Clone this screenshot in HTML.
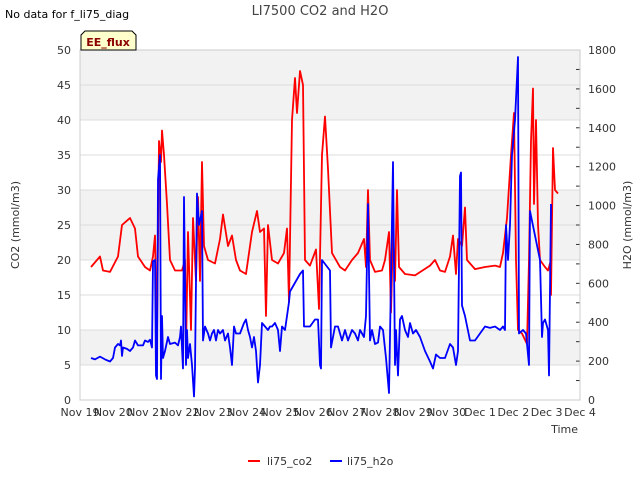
<!DOCTYPE html>
<html><head><meta charset="utf-8"><style>
body{margin:0;background:#fff;font-family:"Liberation Sans","DejaVu Sans",sans-serif}
svg text{font-family:"DejaVu Sans","Liberation Sans",sans-serif}
</style></head><body>
<svg id="c" width="640" height="480" xmlns="http://www.w3.org/2000/svg"></svg>
<script>
const xTickLabels=["Nov 19","Nov 20","Nov 21","Nov 22","Nov 23","Nov 24","Nov 25","Nov 26","Nov 27","Nov 28","Nov 29","Nov 30","Dec 1","Dec 2","Dec 3","Dec 4"];
const yLeftTicks=[0,5,10,15,20,25,30,35,40,45,50];
const yRightTicks=[0,200,400,600,800,1000,1200,1400,1600,1800];
const co2Days=[.33,.6,.69,.9,1.14,1.26,1.5,1.65,1.74,1.95,2.1,2.19,2.25,2.31,2.37,2.43,2.46,2.52,2.61,2.7,2.85,3.06,3.15,3.18,3.24,3.33,3.39,3.48,3.54,3.6,3.66,3.72,3.84,4.05,4.2,4.29,4.44,4.56,4.68,4.8,4.98,5.16,5.31,5.4,5.52,5.58,5.64,5.76,5.94,6.12,6.21,6.27,6.36,6.45,6.51,6.6,6.69,6.75,6.9,7.08,7.17,7.26,7.35,7.44,7.56,7.8,7.95,8.16,8.34,8.52,8.58,8.64,8.7,8.85,9.06,9.15,9.27,9.33,9.39,9.45,9.51,9.57,9.75,10.05,10.5,10.65,10.8,10.95,11.1,11.19,11.28,11.34,11.46,11.55,11.61,11.85,12.15,12.45,12.6,12.69,12.81,12.93,13.02,13.08,13.14,13.26,13.41,13.47,13.53,13.59,13.62,13.68,13.74,13.8,13.95,14.04,14.1,14.13,14.19,14.25,14.34];
const co2Vals=[19,20.5,18.5,18.3,20.5,25,26,24.5,20.5,19,18.5,20.5,23.5,8.5,37,34,38.5,35,28,20,18.5,18.5,20,7,24,10,26,17,29,17,34,22,20,19.5,23,26.5,22,23.5,20,18.5,18,24,27,24,24.5,12,25,20,19.5,21,24.5,14,40,46,41,47,45,20,19.2,21.5,13,35,40.5,33,21,19,18.5,20,21,23,19,30,20,18.3,18.5,20,24,12.5,24,17,30,19,18,17.8,19.2,20,18.5,18.3,20.5,23.5,18,23,22,27.5,20,18.7,19,19.2,19,21,26,35,41,20,10,9.5,8,20,37,44.5,28,40,25,20,19,18.5,19.5,15,36,30,29.5];
const h2oDays=[.33,.45,.6,.75,.9,.99,1.05,1.14,1.2,1.23,1.26,1.29,1.41,1.5,1.59,1.65,1.74,1.89,1.95,2.04,2.1,2.16,2.19,2.25,2.28,2.31,2.34,2.4,2.43,2.46,2.49,2.55,2.64,2.7,2.85,2.94,3.0,3.03,3.09,3.12,3.18,3.21,3.24,3.3,3.36,3.42,3.45,3.51,3.57,3.66,3.69,3.75,3.84,3.9,3.96,4.02,4.08,4.14,4.2,4.29,4.35,4.44,4.5,4.56,4.62,4.68,4.8,4.92,4.98,5.04,5.1,5.16,5.22,5.28,5.34,5.4,5.46,5.55,5.64,5.7,5.76,5.85,5.94,6.0,6.06,6.15,6.27,6.3,6.6,6.69,6.72,6.81,6.9,7.05,7.14,7.2,7.23,7.26,7.5,7.53,7.65,7.74,7.86,7.95,8.04,8.16,8.25,8.34,8.4,8.52,8.58,8.64,8.7,8.76,8.85,8.94,9.0,9.09,9.18,9.27,9.3,9.39,9.45,9.48,9.54,9.6,9.66,9.75,9.84,9.9,9.99,10.08,10.2,10.35,10.5,10.59,10.68,10.8,10.95,11.1,11.19,11.28,11.34,11.4,11.43,11.46,11.55,11.7,11.85,12.0,12.15,12.3,12.45,12.6,12.69,12.75,12.78,12.84,12.9,12.96,13.05,13.14,13.17,13.29,13.38,13.47,13.5,13.8,13.86,13.89,13.95,14.04,14.07,14.13];
const h2oVals=[216,209,223,209,198,216,270,288,281,306,227,270,263,252,270,306,281,281,306,299,310,270,713,720,126,108,1134,1260,108,432,216,252,324,288,295,281,324,378,162,1044,180,360,216,288,180,18,162,1062,900,972,306,378,342,306,342,360,306,360,342,360,306,342,270,180,378,342,342,396,414,360,324,270,324,252,90,180,396,378,360,378,378,396,360,252,378,360,504,558,648,666,378,378,378,414,414,180,162,720,666,270,378,378,306,360,306,360,342,306,360,324,432,1008,306,360,288,295,378,360,216,36,324,1224,180,360,126,414,432,360,324,396,342,360,324,252,198,162,234,216,216,288,270,180,252,1152,1170,486,432,306,306,342,378,371,378,360,378,360,900,720,900,1260,1440,1764,342,360,342,180,972,720,324,396,414,360,126,1008];

const X0=80,X1=580,Y0=400,Y1=50;
const xs=d=>X0+d*(X1-X0)/15;
const yl=v=>Y0-v*(Y0-Y1)/50;
const yr=v=>Y0-v*(Y0-Y1)/1800;
const svg=document.getElementById('c');
const NS='http://www.w3.org/2000/svg';
function mk(t,a,p){const e=document.createElementNS(NS,t);for(const k in a)e.setAttribute(k,a[k]);(p||svg).appendChild(e);return e;}

let bg=mk('rect',{x:X0,y:Y1,width:X1-X0,height:Y0-Y1,fill:'#fff'});


[[5,10],[20,30],[40,50]].forEach(b=>{
  let r=mk('rect',{x:X0,y:yl(b[1]),width:X1-X0,height:yl(b[0])-yl(b[1]),fill:'#f2f2f2'});
  
  
});
yLeftTicks.forEach(v=>{
  let g=mk('line',{x1:X0,x2:X1,y1:yl(v),y2:yl(v),stroke:'#dcdcdc','stroke-width':1});
  
  
  let t=mk('text',{x:X0-9,y:yl(v)+4,'text-anchor':'end','font-size':11,fill:'#333'});
  t.textContent=v;
  
  
});
yRightTicks.forEach(v=>{
  mk('line',{x1:X1,x2:X1-4,y1:yr(v),y2:yr(v),stroke:'#333'});
  let t=mk('text',{x:X1+8,y:yr(v)+4,'font-size':11,fill:'#333'});
  t.textContent=v;
  
  
  if(v<1800)mk('line',{x1:X1,x2:X1-4,y1:yr(v+100),y2:yr(v+100),stroke:'#333'});
});
xTickLabels.forEach((s,i)=>{
  let t=mk('text',{x:xs(i),y:416,'text-anchor':'middle','font-size':11,fill:'#333'});
  t.textContent=s;
  
  
});
mk('rect',{x:X0,y:Y1,width:X1-X0,height:Y0-Y1,fill:'none',stroke:'#ccc'});

function line(days,vals,f,col,name){
  const n=Math.min(days.length,vals.length);let d='';
  for(let i=0;i<n;i++)d+=(i?'L':'M')+xs(days[i]).toFixed(1)+','+f(vals[i]).toFixed(1);
  let p=mk('path',{d:d,fill:'none',stroke:col,'stroke-width':1.8,'stroke-linejoin':'round'});
  
  
}
line(co2Days,co2Vals,yl,'#ff0000','co2-line');
line(h2oDays,h2oVals,yr,'#0000ff','h2o-line');

function txt(x,y,s,a,name){let t=mk('text',Object.assign({x:x,y:y},a));t.textContent=s;
  
  return t;}
txt(320,15,'LI7500 CO2 and H2O',{'text-anchor':'middle','font-size':13,fill:'#444'},'chart-title');
txt(5,18,'No data for f_li75_diag',{'font-size':11,fill:'#000'},'no-data-note');
txt(578,433,'Time',{'text-anchor':'end','font-size':11,fill:'#333'},'x-axis-title');
let yt=txt(0,0,'CO2 (mmol/m3)',{'text-anchor':'middle','font-size':11,fill:'#333',transform:'translate(19,225) rotate(-90)'},'y-left-axis-title');
txt(0,0,'H2O (mmol/m3)',{'text-anchor':'middle','font-size':11,fill:'#333',transform:'translate(631,225) rotate(-90)'},'y-right-axis-title');
let eb=mk('path',{d:'M81,50 L81,35 L85,31 L132,31 L136,35 L136,50 Z',fill:'#ffffcc',stroke:'#000','stroke-width':1});


txt(108,46,'EE_flux',{'text-anchor':'middle','font-size':11,'font-weight':'bold',fill:'#8b0000'},'ee-flux-label');
let l1=mk('line',{x1:248,x2:260,y1:461,y2:461,stroke:'#ff0000','stroke-width':2});


txt(267,465,'li75_co2',{'font-size':11,fill:'#333'},'legend-label-co2');
let l2=mk('line',{x1:330,x2:342,y1:461,y2:461,stroke:'#0000ff','stroke-width':2});


txt(347,465,'li75_h2o',{'font-size':11,fill:'#333'},'legend-label-h2o');
</script>
</body></html>
